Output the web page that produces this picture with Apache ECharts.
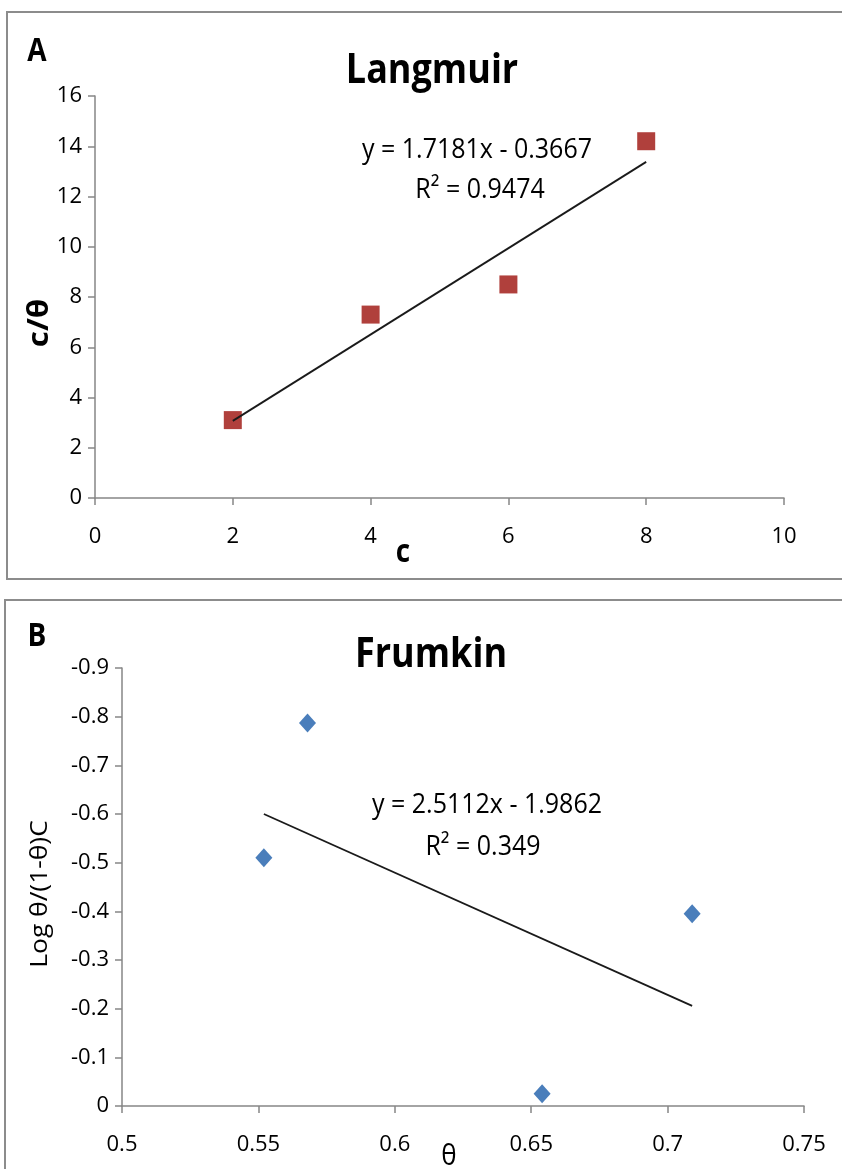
<!DOCTYPE html>
<html>
<head>
<meta charset="utf-8">
<script src="https://cdn.jsdelivr.net/npm/echarts@6/dist/echarts.min.js"></script>
<style>
  html, body { margin: 0; padding: 0; background: #fff; }
  #main { width: 842px; height: 1169px; }
</style>
</head>
<body>
<div id="main"></div>
<script>
// panel A - Langmuir
const langC = [2, 4, 6, 8];
const langCTheta = [3.1, 7.3, 8.5, 14.2];
const langSlope = 1.7181, langIntercept = -0.3667;
const langXTicks = [0, 2, 4, 6, 8, 10];
const langYTicks = [0, 2, 4, 6, 8, 10, 12, 14, 16];

// panel B - Frumkin
const frumTheta = [0.552, 0.568, 0.654, 0.709];
const frumLog = [-0.51, -0.787, -0.025, -0.395];
const frumSlope = 2.5112, frumIntercept = -1.9862;
const frumXTicks = [0.5, 0.55, 0.6, 0.65, 0.7, 0.75];
const frumYTicks = [0, -0.1, -0.2, -0.3, -0.4, -0.5, -0.6, -0.7, -0.8, -0.9];

const FONT = '"Open Sans", sans-serif';

function trend(xs, a, b) {
  const lo = Math.min(...xs), hi = Math.max(...xs);
  return [[lo, a * lo + b], [hi, a * hi + b]];
}

const axisCommon = {
  axisLine: { show: true, lineStyle: { color: '#868686', width: 1.5 } },
  axisTick: { show: true, length: 7, lineStyle: { color: '#868686', width: 1.5 } },
  splitLine: { show: false },
  axisLabel: { color: '#000', fontFamily: FONT, fontSize: 22 }
};

function txt(x, y, s, font, extra) {
  return Object.assign({
    type: 'text', x: x, y: y, scaleY: 1.12,
    style: { text: s, font: font, fill: '#000', align: 'center', verticalAlign: 'middle' }
  }, extra || {});
}

let myChart = echarts.init(document.getElementById('main'), null, { renderer: 'canvas' });
myChart.setOption({
  backgroundColor: '#fff',
  animation: false,
  grid: [
    { left: 95, top: 96, width: 689, height: 402 },
    { left: 122, top: 668, width: 682, height: 438 }
  ],
  xAxis: [
    Object.assign({}, axisCommon, {
      gridIndex: 0, type: 'value', min: langXTicks[0], max: langXTicks[langXTicks.length - 1], interval: 2,
      axisLabel: Object.assign({}, axisCommon.axisLabel, { margin: 28 })
    }),
    Object.assign({}, axisCommon, {
      gridIndex: 1, type: 'value', min: frumXTicks[0], max: frumXTicks[frumXTicks.length - 1], interval: 0.05,
      axisLabel: Object.assign({}, axisCommon.axisLabel, { margin: 28 })
    })
  ],
  yAxis: [
    Object.assign({}, axisCommon, {
      gridIndex: 0, type: 'value', min: langYTicks[0], max: langYTicks[langYTicks.length - 1], interval: 2,
      axisLabel: Object.assign({}, axisCommon.axisLabel, { margin: 13 })
    }),
    Object.assign({}, axisCommon, {
      gridIndex: 1, type: 'value', inverse: true,
      min: frumYTicks[frumYTicks.length - 1], max: frumYTicks[0], interval: 0.1,
      axisLabel: Object.assign({}, axisCommon.axisLabel, { margin: 13 })
    })
  ],
  series: [
    {
      type: 'line', xAxisIndex: 0, yAxisIndex: 0, showSymbol: false, silent: true,
      data: trend(langC, langSlope, langIntercept),
      lineStyle: { color: '#1a1a1a', width: 1.8 }, z: 3
    },
    {
      type: 'scatter', xAxisIndex: 0, yAxisIndex: 0,
      data: langC.map((c, i) => [c, langCTheta[i]]),
      symbol: 'rect', symbolSize: 18,
      itemStyle: { color: '#B0403C', opacity: 1 }, z: 2
    },
    {
      type: 'line', xAxisIndex: 1, yAxisIndex: 1, showSymbol: false, silent: true,
      data: trend(frumTheta, frumSlope, frumIntercept),
      lineStyle: { color: '#1a1a1a', width: 1.8 }, z: 3
    },
    {
      type: 'scatter', xAxisIndex: 1, yAxisIndex: 1,
      data: frumTheta.map((t, i) => [t, frumLog[i]]),
      symbol: 'diamond', symbolSize: [17, 19],
      itemStyle: { color: '#4A7EBB', opacity: 1 }, z: 2
    }
  ],
  graphic: [
    // panel frames
    { type: 'rect', shape: { x: 7, y: 12, width: 860, height: 567 }, style: { fill: 'none', stroke: '#8c8c8c', lineWidth: 2 }, silent: true },
    { type: 'rect', shape: { x: 5, y: 600, width: 860, height: 600 }, style: { fill: 'none', stroke: '#8c8c8c', lineWidth: 2 }, silent: true },
    // panel A texts
    txt(37, 52, 'A', 'bold 28px ' + FONT),
    txt(432, 72, 'Langmuir', 'bold 36px ' + FONT),
    txt(477, 150, 'y = 1.7181x - 0.3667', '25px ' + FONT),
    txt(480, 190, 'R² = 0.9474', '25px ' + FONT),
    txt(40, 323, 'c/θ', 'bold 28px ' + FONT, { rotation: Math.PI / 2, scaleY: 1, scaleX: 1.12 }),
    txt(403, 553, 'c', 'bold 28px ' + FONT),
    // panel B texts
    txt(37, 637, 'B', 'bold 28px ' + FONT),
    txt(431, 656, 'Frumkin', 'bold 36px ' + FONT),
    txt(487, 805, 'y = 2.5112x - 1.9862', '25px ' + FONT),
    txt(483, 847, 'R² = 0.349', '25px ' + FONT),
    txt(40, 894, 'Log θ/(1-θ)C', '24px ' + FONT, { rotation: Math.PI / 2, scaleY: 1, scaleX: 1.1 }),
    txt(449, 1157, 'θ', '26px ' + FONT)
  ]
});
</script>
</body>
</html>
